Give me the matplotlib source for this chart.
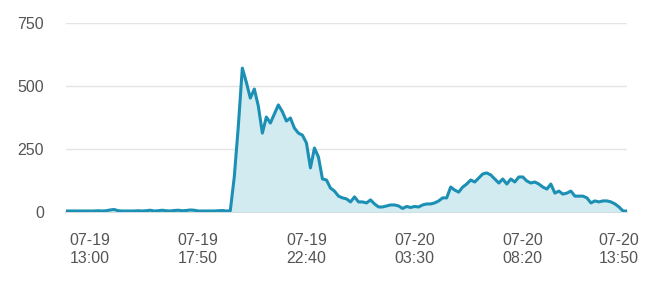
import numpy as np
import matplotlib.pyplot as plt

# values, one point every ~4 px along the category axis
values = [
    4, 4, 4, 4, 4, 4, 4, 4, 5, 4,
    5, 8, 10, 5, 4, 4, 4, 4, 5, 4,
    5, 7, 4, 5, 7, 5, 4, 6, 7, 5,
    6, 8, 7, 4, 4, 4, 4, 4, 5, 6,
    4, 5, 140, 340, 571, 515, 452, 488, 420, 313,
    377, 353, 389, 425, 398, 361, 373, 333, 313, 305,
    274, 175, 254, 218, 131, 127, 95, 83, 63, 56,
    52, 40, 60, 40, 40, 36, 48, 32, 20, 20,
    24, 28, 28, 24, 14, 22, 18, 22, 20, 28,
    32, 32, 36, 44, 56, 56, 99, 87, 79, 99,
    111, 127, 119, 135, 151, 155, 147, 131, 115, 131,
    111, 131, 119, 139, 139, 123, 115, 119, 111, 99,
    91, 111, 75, 83, 71, 75, 83, 63, 63, 63,
    56, 36, 44, 40, 44, 44, 40, 32, 20, 4,
    4,
]
tick_index = [6, 33, 60, 87, 114, 138]
tick_labels = ["07-19\n13:00", "07-19\n17:50", "07-19\n22:40",
               "07-20\n03:30", "07-20\n08:20", "07-20\n13:50"]
y_ticks = [0, 250, 500, 750]

plt.rcParams["font.family"] = ["Liberation Sans", "DejaVu Sans"]

fig = plt.figure(figsize=(6.51, 2.82), dpi=100)
ax = fig.add_axes([66 / 651, (282 - 212) / 282, (627 - 66) / 651, (212 - 23) / 282])

x = np.arange(len(values))
line_color = "#1b90b4"
ax.fill_between(x, 0, values, color="#d2ebf0", lw=0, zorder=2)
ax.plot(x, values, color=line_color, lw=2.2, solid_joinstyle="round",
        solid_capstyle="round", zorder=3)

ax.set_xlim(0, len(values) - 1)
ax.set_ylim(0, 750)
ax.set_yticks(y_ticks)
ax.set_xticks(tick_index)
ax.set_xticklabels(tick_labels, linespacing=1.25)

ax.grid(axis="y", color="#e4e4e4", lw=1, zorder=0)
ax.set_axisbelow(True)
for side in ["top", "right", "left"]:
    ax.spines[side].set_visible(False)
ax.spines["bottom"].set_color("#cccccc")
ax.spines["bottom"].set_linewidth(1.2)
ax.spines["bottom"].set_zorder(1)

ax.tick_params(axis="both", length=0, labelsize=11.5, labelcolor="#555555")
ax.tick_params(axis="y", pad=16)
ax.tick_params(axis="x", pad=15)

fig.savefig("out.png", dpi=100)
